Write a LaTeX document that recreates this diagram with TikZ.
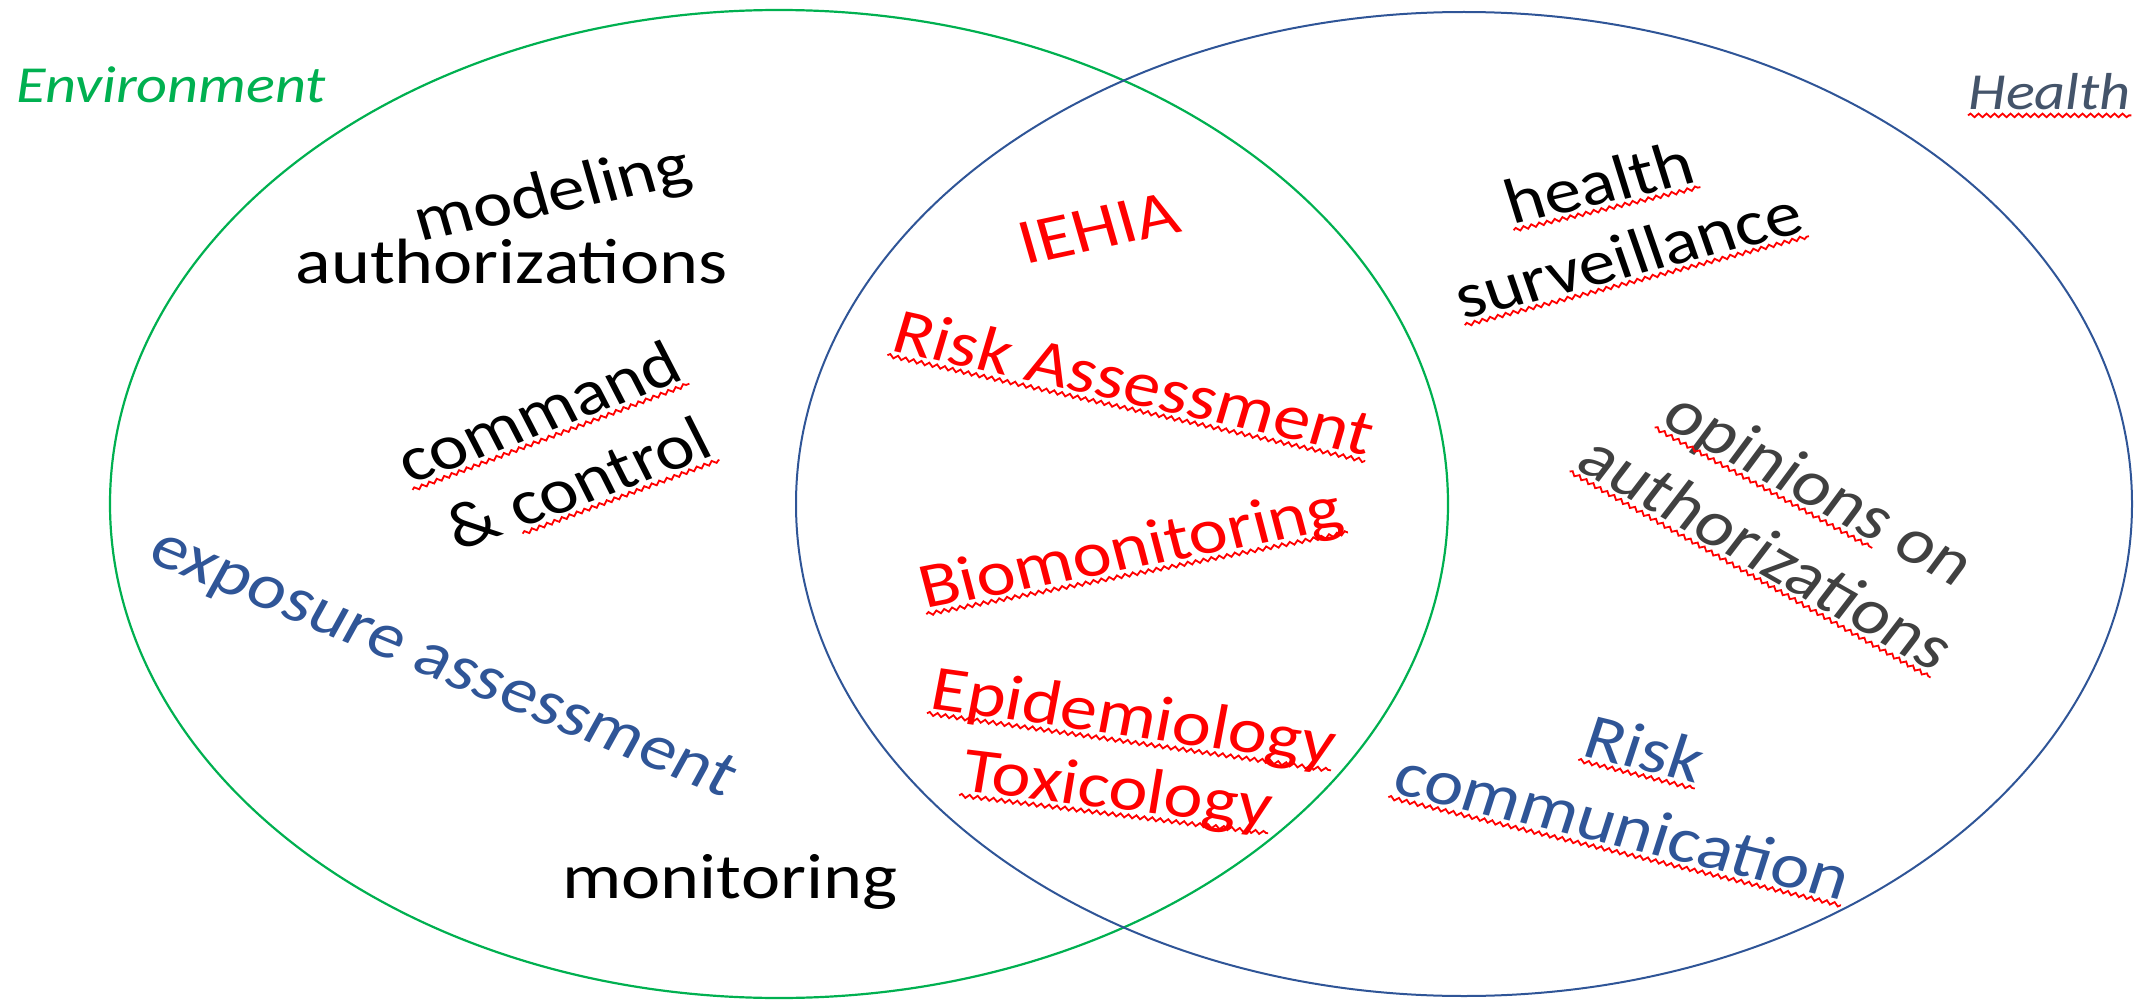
\documentclass[tikz,border=0pt]{standalone}
\usepackage{fontspec}
\setmainfont{Carlito}
\usetikzlibrary{shapes.geometric,decorations.pathmorphing,calc}
\definecolor{envgreen}{RGB}{0,176,80}
\definecolor{hblue}{RGB}{47,85,151}
\definecolor{hslate}{RGB}{68,84,106}
\definecolor{dgray}{RGB}{64,64,64}
\definecolor{sred}{RGB}{255,0,0}
\begin{document}
\begin{tikzpicture}[x=0.5pt,y=-0.5pt,
  circ/.style={ellipse, draw, inner sep=0pt, line width=1.1pt},
  lbl/.style={inner sep=0pt, anchor=base west, xscale=1.16, text depth=2.5pt, font=\fontsize{32}{38}\selectfont},
  ttl/.style={lbl, font=\fontsize{26}{31}\selectfont\itshape},
  squig/.style={draw=sred, line width=0.9pt, decorate, decoration={snake, amplitude=0.9pt, segment length=4pt}}]
\useasboundingbox (0,0) rectangle (2154,1006);
\node[circ, draw=envgreen, minimum width=669pt, minimum height=494pt] (env) at (779,504) {};
\node[circ, draw=hblue, line width=1pt, minimum width=668pt, minimum height=492pt] (hea) at (1464,504) {};

\node[ttl, text=envgreen] (envt) at (16,103) {Environment};
\node[ttl, text=hslate] (healtht) at (1968,110) {Health};
\node[lbl, rotate=13.9] (model) at (420,242) {modeling};
\node[lbl] (auth1) at (295,283) {authorizations};
\node[lbl, rotate=24] (cmd) at (410,485) {command};
\node[lbl, rotate=23.5] (ctrl) at (458,552) {\& control};
\node[lbl, text=hblue, rotate=-25.5] (expo) at (145,560) {exposure assessment};
\node[lbl] (monit) at (562,898) {monitoring};
\node[lbl, text=sred, rotate=13.9] (iehia) at (1025,265) {IEHIA};
\node[lbl, text=sred, rotate=-14.4] (riska) at (889,350) {Risk Assessment};
\node[lbl, text=sred, rotate=12.7] (bio) at (925,609) {Biomonitoring};
\node[lbl, text=sred, rotate=-9.3] (epi) at (928,708) {Epidemiology};
\node[lbl, text=sred, rotate=-8.1] (tox) at (960,790) {Toxicology};
\node[lbl, rotate=15] (hlth) at (1512,225) {health};
\node[lbl, rotate=16.7] (surv) at (1463,320) {surveillance};
\node[lbl, text=dgray, rotate=-32.7] (opin) at (1658,423) {opinions on};
\node[lbl, text=dgray, rotate=-33.5] (auth2) at (1573,467) {authorizations};
\node[lbl, text=hblue, rotate=-15.8] (riskc) at (1580,755) {Risk};
\node[lbl, text=hblue, rotate=-15.5] (comm) at (1390,792) {communication};

\path[squig] (healtht.south west) -- (healtht.south east);
\path[squig] (cmd.south west) -- (cmd.south east);
\path[squig] ($(ctrl.south west)!0.24!(ctrl.south east)$) -- (ctrl.south east);
\path[squig] (riska.south west) -- (riska.south east);
\path[squig] (bio.south west) -- (bio.south east);
\path[squig] (epi.south west) -- (epi.south east);
\path[squig] (tox.south west) -- (tox.south east);
\path[squig] (hlth.south west) -- (hlth.south east);
\path[squig] (surv.south west) -- (surv.south east);
\path[squig] (opin.south west) -- ($(opin.south west)!0.73!(opin.south east)$);
\path[squig] (auth2.south west) -- (auth2.south east);
\path[squig] (riskc.south west) -- (riskc.south east);
\path[squig] (comm.south west) -- (comm.south east);
\end{tikzpicture}
\end{document}
